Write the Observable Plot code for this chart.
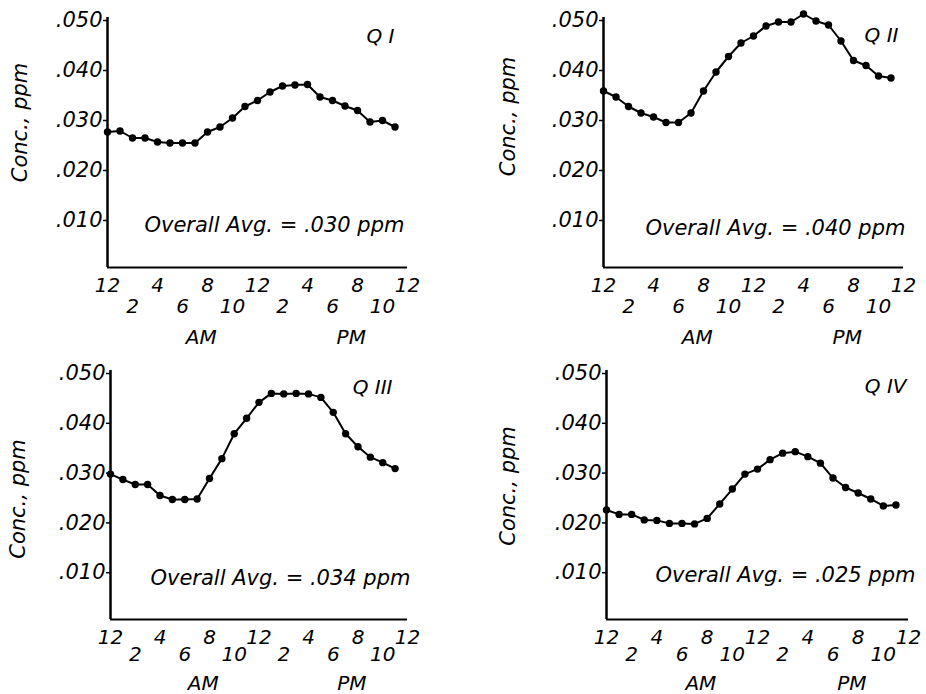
<!DOCTYPE html>
<html>
<head>
<meta charset="utf-8">
<script src="https://cdn.jsdelivr.net/npm/d3@7"></script>
<script src="https://cdn.jsdelivr.net/npm/@observablehq/plot@0.6"></script>
<style>
  html, body { margin: 0; padding: 0; background: #fff; }
  #grid { display: grid; grid-template-columns: 463px 463px; grid-template-rows: 347px 347px; width: 926px; height: 694px; }
  #grid svg { display: block; }
</style>
</head>
<body>
<div id="grid"></div>
<script>
// ---- data ----
const hours = [0,1,2,3,4,5,6,7,8,9,10,11,12,13,14,15,16,17,18,19,20,21,22,23];
const q1 = [0.0271,0.0273,0.0259,0.0259,0.0251,0.0249,0.0249,0.0249,0.0271,0.0281,0.0299,0.0322,0.0334,0.0351,0.0363,0.0365,0.0366,0.0341,0.0334,0.0323,0.0314,0.0291,0.0294,0.0281];
const q2 = [0.0353,0.0341,0.0322,0.0309,0.0301,0.0290,0.0290,0.0309,0.0353,0.0391,0.0422,0.0449,0.0463,0.0483,0.0491,0.0491,0.0507,0.0493,0.0485,0.0453,0.0414,0.0404,0.0383,0.0379];
const q3 = [0.0292,0.0281,0.0271,0.0271,0.0249,0.0241,0.0241,0.0242,0.0283,0.0323,0.0373,0.0404,0.0436,0.0454,0.0453,0.0454,0.0453,0.0446,0.0416,0.0373,0.0347,0.0326,0.0315,0.0303];
const q4 = [0.0220,0.0211,0.0211,0.0200,0.0199,0.0193,0.0193,0.0192,0.0203,0.0232,0.0262,0.0292,0.0302,0.0321,0.0334,0.0337,0.0327,0.0314,0.0284,0.0265,0.0254,0.0242,0.0228,0.0230];
const quarterNames = ["Q I", "Q II", "Q III", "Q IV"];
const averages = [".030", ".040", ".034", ".025"];
const yTicks = [0.01, 0.02, 0.03, 0.04, 0.05];
const yTickLabels = [".010", ".020", ".030", ".040", ".050"];
const upperTicks = [0, 4, 8, 12, 16, 20, 24];
const upperLabels = ["12", "4", "8", "12", "4", "8", "12"];
const lowerTicks = [2, 6, 10, 14, 18, 22];
const lowerLabels = ["2", "6", "10", "2", "6", "10"];
const periodTicks = [7.5, 19.5];
const periodLabels = ["AM", "PM"];
const series = [q1, q2, q3, q4];

// ---- layout (per panel) ----
const layouts = [
  {ml: 107, mr: 56, mt: 17, mb: 80, ylx: -87, yly: -20, qdx: -13, qdy: 19, adx: -3, ady: -42, p1: 10, p2: 31, p3: 62},
  {ml: 140, mr: 23, mt: 17, mb: 80, ylx: -95, yly: -26, qdx: -5,  qdy: 18, adx: 2,  ady: -39, p1: 10, p2: 31, p3: 62},
  {ml: 110, mr: 56, mt: 23, mb: 75, ylx: -92, yly: 4,   qdx: -15, qdy: 17, adx: 3,  ady: -41, p1: 10, p2: 27, p3: 56},
  {ml: 143, mr: 18, mt: 23, mb: 75, ylx: -98, yly: -9,  qdx: -2,  qdy: 16, adx: 7,  ady: -44, p1: 10, p2: 27, p3: 56}
];

const font = "DejaVu Sans";
const grid = document.getElementById("grid");

series.forEach((vals, k) => {
  const L = layouts[k];
  const data = hours.map((h, i) => ({hour: h, conc: vals[i]}));
  const chart = Plot.plot({
    width: 463,
    height: 347,
    marginLeft: L.ml,
    marginRight: L.mr,
    marginTop: L.mt,
    marginBottom: L.mb,
    style: {fontFamily: font, fontStyle: "italic", fontSize: "20px", background: "#fff", color: "#000", overflow: "visible"},
    x: {domain: [0, 24]},
    y: {domain: [0, 0.05]},
    marks: [
      Plot.axisY(yTicks, {
        tickFormat: d => yTickLabels[yTicks.indexOf(d)],
        tickSize: 4, tickPadding: 1, fontSize: 21, dy: 3, label: null, strokeWidth: 1.5
      }),
      Plot.axisX(upperTicks, {
        tickFormat: d => upperLabels[upperTicks.indexOf(d)],
        tickSize: 0, tickPadding: L.p1, fontSize: 20, label: null
      }),
      Plot.axisX(lowerTicks, {
        tickFormat: d => lowerLabels[lowerTicks.indexOf(d)],
        tickSize: 0, tickPadding: L.p2, fontSize: 20, label: null
      }),
      Plot.axisX(periodTicks, {
        tickFormat: d => periodLabels[periodTicks.indexOf(d)],
        tickSize: 0, tickPadding: L.p3, fontSize: 20, label: null
      }),
      Plot.ruleX([0], {stroke: "#000", strokeWidth: 2.5}),
      Plot.ruleY([0], {stroke: "#000", strokeWidth: 2.2}),
      Plot.line(data, {x: "hour", y: "conc", stroke: "#000", strokeWidth: 2}),
      Plot.dot(data, {x: "hour", y: "conc", r: 3.7, fill: "#000", stroke: "none"}),
      Plot.text(["Conc., ppm"], {
        text: d => d, frameAnchor: "left", rotate: -90, dx: L.ylx, dy: L.yly,
        fontSize: 21, textAnchor: "middle", lineAnchor: "middle", fill: "#000"
      }),
      Plot.text([quarterNames[k]], {
        text: d => d, frameAnchor: "top-right", dx: L.qdx, dy: L.qdy,
        fontSize: 20, textAnchor: "end", lineAnchor: "middle", fill: "#000"
      }),
      Plot.text([averages[k]], {
        text: d => `Overall Avg. = ${d} ppm`, frameAnchor: "bottom-right", dx: L.adx, dy: L.ady,
        fontSize: 21, textAnchor: "end", lineAnchor: "middle", fill: "#000"
      })
    ]
  });
  grid.appendChild(chart);
});
</script>
</body>
</html>
